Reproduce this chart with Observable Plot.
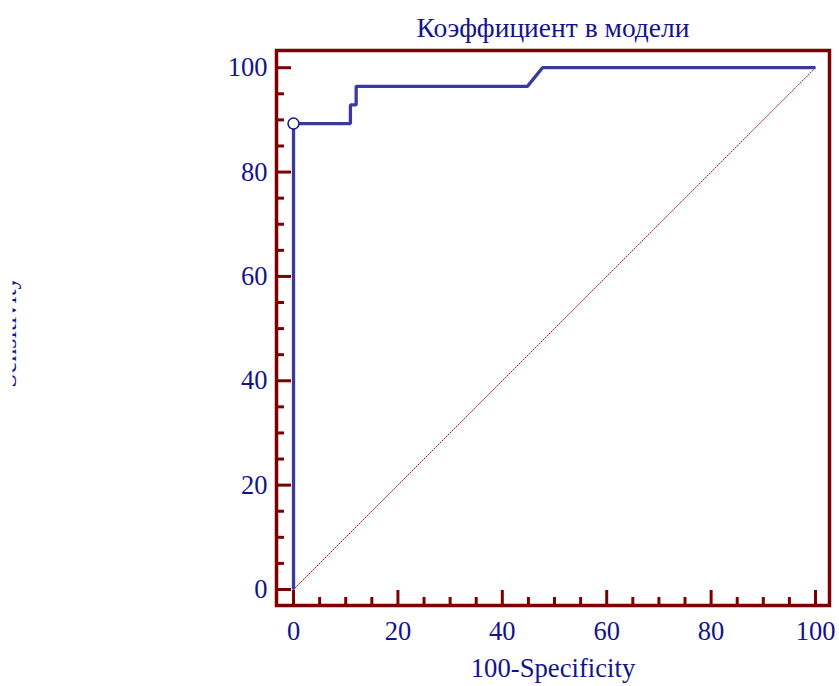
<!DOCTYPE html>
<html>
<head>
<meta charset="utf-8">
<script src="https://cdn.jsdelivr.net/npm/d3@7"></script>
<script src="https://cdn.jsdelivr.net/npm/@observablehq/plot@0.6"></script>
<style>
  html, body { margin: 0; padding: 0; background: #ffffff; }
  #chart { width: 839px; height: 686px; }
</style>
</head>
<body>
<div id="chart"></div>
<script>
// ROC curve: 100-Specificity (x) vs Sensitivity (y)
const fpr = [0, 0, 10.9, 10.9, 12.0, 12.0, 44.8, 47.7, 100];
const tpr = [0, 89.29, 89.29, 92.86, 92.86, 96.43, 96.43, 100, 100];

// Selected cut-off point
const cutFpr = [0];
const cutTpr = [89.29];

// Reference (chance) diagonal
const diagonal = [0, 100];

// Axis ticks
const majorTicks = [0, 20, 40, 60, 80, 100];
const minorTicks = [5, 10, 15, 25, 30, 35, 45, 50, 55, 65, 70, 75, 85, 90, 95];

const title = "Коэффициент в модели";
const xLabel = "100-Specificity";
const yLabel = "Sensitivity";

const W = 839, H = 686;
const mL = 276, mR = 10, mT = 50, mB = 81;
const xDomain = [-3.26, 102.68];
const yDomain = [-3.07, 103.3];
const kx = (W - mL - mR) / (xDomain[1] - xDomain[0]);
const ky = (H - mT - mB) / (yDomain[1] - yDomain[0]);

const axisColor = "#7d0000";
const textColor = "#14148a";
const curveColor = "#3a3a9e";
const font = "Liberation Serif, Times New Roman, serif";
const fs = 26;

const roc = fpr.map((x, i) => ({x, y: tpr[i]}));
const cut = cutFpr.map((x, i) => ({x, y: cutTpr[i]}));

const majorLen = 15, minorLen = 8;

const chart = Plot.plot({
  width: W,
  height: H,
  marginLeft: mL,
  marginRight: mR,
  marginTop: mT,
  marginBottom: mB,
  style: {fontFamily: font, fontSize: fs + "px", background: "#ffffff", overflow: "visible"},
  x: {domain: xDomain, axis: null},
  y: {domain: yDomain, axis: null},
  marks: [
    // tick labels
    Plot.axisX(majorTicks, {anchor: "bottom", tickSize: 0, tickPadding: 16, color: textColor, fontSize: 26.5, label: null}),
    Plot.axisY(majorTicks, {anchor: "left", tickSize: 0, tickPadding: 9, color: textColor, fontSize: 26.5, label: null}),
    // inward ticks
    Plot.ruleX(majorTicks, {x: d => d, y1: yDomain[0], y2: yDomain[0] + majorLen / ky, stroke: axisColor, strokeWidth: 3}),
    Plot.ruleX(minorTicks, {x: d => d, y1: yDomain[0], y2: yDomain[0] + minorLen / ky, stroke: axisColor, strokeWidth: 3}),
    Plot.ruleY(majorTicks, {y: d => d, x1: xDomain[0], x2: xDomain[0] + majorLen / kx, stroke: axisColor, strokeWidth: 3}),
    Plot.ruleY(minorTicks, {y: d => d, x1: xDomain[0], x2: xDomain[0] + minorLen / kx, stroke: axisColor, strokeWidth: 3}),
    Plot.frame({stroke: axisColor, strokeWidth: 3.5}),
    // chance line
    Plot.line(diagonal, {x: d => d, y: d => d, stroke: "#9a1010", strokeWidth: 1, strokeDasharray: "1.2,1.6"}),
    // ROC curve
    Plot.line(roc, {x: "x", y: "y", stroke: curveColor, strokeWidth: 3.3, strokeLinejoin: "miter", strokeLinecap: "butt"}),
    Plot.dot(cut, {x: "x", y: "y", r: 5.5, fill: "#ffffff", stroke: textColor, strokeWidth: 1.5}),
    // titles
    Plot.text([title], {text: d => d, frameAnchor: "top", dy: 36 - mT, lineAnchor: "bottom", fill: textColor, fontSize: 27.5}),
    Plot.text([xLabel], {text: d => d, frameAnchor: "bottom", dy: 71, lineAnchor: "bottom", fill: textColor, fontSize: 26.7}),
    Plot.text([yLabel], {text: d => d, frameAnchor: "left", dx: 15 - mL, dy: 4, rotate: -90, textAnchor: "middle", lineAnchor: "bottom", fill: textColor, fontSize: fs})
  ]
});

// the vertical axis title sits mostly beyond the left page edge:
// wrap its group in an untransformed group that carries the clip
const svg = d3.select(chart);
svg.insert("defs", ":first-child")
  .append("clipPath").attr("id", "ytitle-clip").attr("clipPathUnits", "userSpaceOnUse")
  .append("rect").attr("x", 12.5).attr("y", 0).attr("width", 30).attr("height", H);
svg.selectAll("text")
  .filter(function() { return this.textContent === yLabel; })
  .each(function() {
    const g = this.parentNode;
    const wrap = document.createElementNS("http://www.w3.org/2000/svg", "g");
    wrap.setAttribute("clip-path", "url(#ytitle-clip)");
    g.parentNode.insertBefore(wrap, g);
    wrap.appendChild(g);
  });

document.getElementById("chart").appendChild(chart);
</script>
</body>
</html>
